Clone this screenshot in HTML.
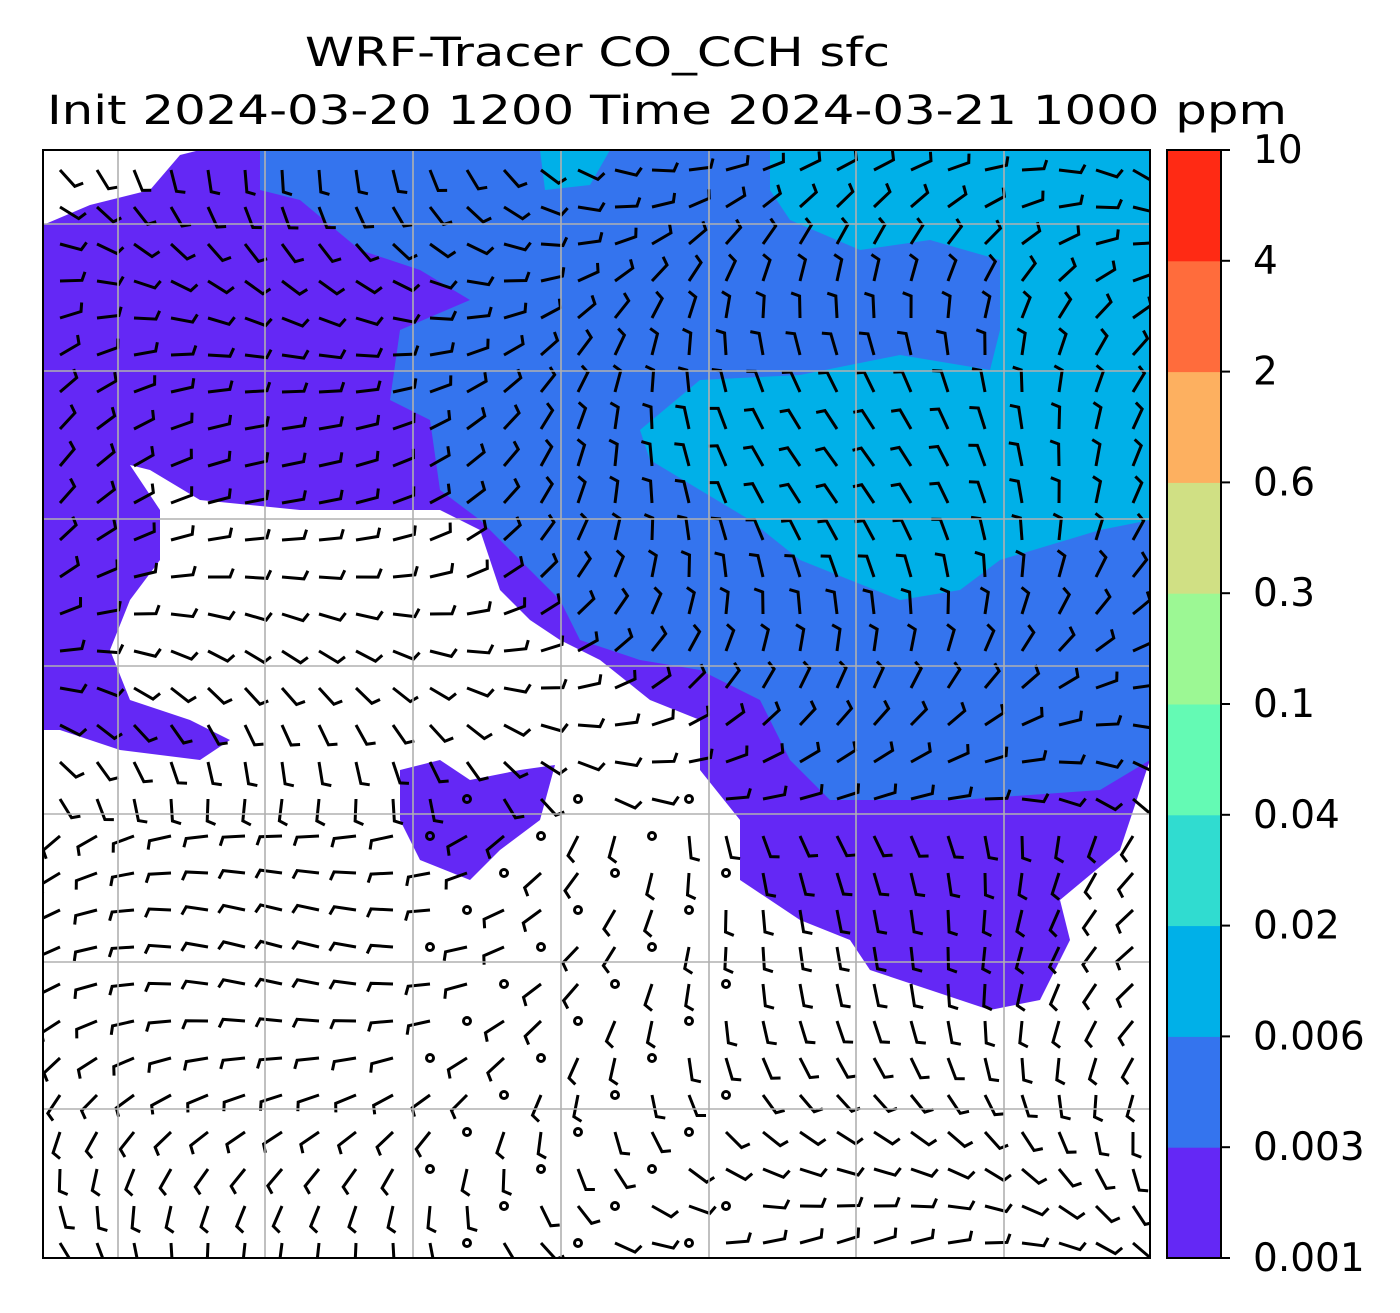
<!DOCTYPE html>
<html><head><meta charset="utf-8"><style>
body{margin:0;background:#fff;}
svg{display:block;font-family:"DejaVu Sans","Liberation Sans",sans-serif;}
</style></head><body>
<svg id="fig" width="1400" height="1313" viewBox="0 0 1400 1313">
<text x="305" y="66" font-size="40" textLength="585" lengthAdjust="spacingAndGlyphs">WRF-Tracer CO_CCH sfc</text>
<text x="47" y="124" font-size="40" textLength="1240" lengthAdjust="spacingAndGlyphs">Init 2024-03-20 1200 Time 2024-03-21 1000 ppm</text>
<defs><clipPath id="mapclip"><rect x="43" y="150" width="1107" height="1108"/></clipPath></defs>
<g clip-path="url(#mapclip)">
<rect x="43" y="150" width="1107" height="1108" fill="#fff"/>
<polygon fill="#6428f5" points="200,150 1150,150 1150,760 1120,850 1060,900 1070,940 1040,1000 990,1010 930,990 870,970 850,940 800,920 740,880 740,820 700,770 700,720 650,700 600,660 560,640 530,620 500,590 480,530 440,510 300,510 200,500 150,470 130,465 160,510 160,560 130,600 110,650 130,700 190,720 230,740 200,760 120,750 60,730 43,730 43,225 90,205 150,190 180,155"/>
<polygon fill="#6428f5" points="400,770 440,760 470,780 520,770 555,765 540,820 500,850 470,880 420,860 400,820"/>
<polygon fill="#3474ee" points="260,150 1150,150 1150,760 1100,790 960,800 830,800 790,760 760,700 700,670 640,660 580,640 560,600 520,560 480,520 440,490 430,420 390,400 400,330 470,300 420,270 360,250 300,200 260,190"/>
<polygon fill="#00b0e8" points="770,150 1150,150 1150,520 1100,530 1000,560 960,590 900,600 800,560 750,520 700,490 650,460 640,430 700,380 800,375 900,355 990,370 1000,330 1000,260 930,240 860,250 790,220 770,190"/>
<polygon fill="#00b0e8" points="540,150 610,150 590,185 545,190"/>
<g id="barbs" stroke="#000" stroke-width="3" fill="none"></g>
<g id="grid" stroke="#b0b0b0" stroke-width="1.6"></g>
</g>
<rect x="43" y="150" width="1107" height="1108" fill="none" stroke="#000" stroke-width="2"/>
<g id="cbar"></g>
</svg>
<script>
const levels=["0.001","0.003","0.006","0.02","0.04","0.1","0.3","0.6","2","4","10"];
const colors=["#6428f5","#3474ee","#00b0e8","#30dcd0","#64fab4","#9cf894","#d0e084","#fdb060","#ff6c3c","#ff2a14"];
const gridX=[118,265,413,561,709,856,1004];
const gridY=[224,371,519,666,814,962,1109];
const NS="http://www.w3.org/2000/svg";
const g=document.getElementById('grid');
gridX.forEach(x=>{const l=document.createElementNS(NS,'line');l.setAttribute('x1',x);l.setAttribute('x2',x);l.setAttribute('y1',150);l.setAttribute('y2',1258);


g.appendChild(l);});
gridY.forEach(y=>{const l=document.createElementNS(NS,'line');l.setAttribute('y1',y);l.setAttribute('y2',y);l.setAttribute('x1',43);l.setAttribute('x2',1150);


g.appendChild(l);});
const b=document.getElementById('barbs');
for(let y=170;y<1258;y+=37){for(let x=60;x<1150;x+=37){
 const a=Math.sin(x/180)+Math.cos(y/150)*1.2+(y>800?1.2:0);
 const calm=(y>780&&x>420&&x<760&&(x+y)%3==0);
 if(calm){const c=document.createElementNS(NS,'circle');c.setAttribute('cx',x);c.setAttribute('cy',y);c.setAttribute('r',3.5);
 
 
 b.appendChild(c);continue;}
 const len=22;
 const l=document.createElementNS(NS,'polyline');
 const x2=x+len*Math.cos(a),y2=y+len*Math.sin(a);
 const x3=x2+9*Math.cos(a-1.2),y3=y2+9*Math.sin(a-1.2);
 l.setAttribute('points',`${x},${y} ${x2},${y2} ${x3},${y3}`);
 
 
 b.appendChild(l);}}
const cb=document.getElementById('cbar');
const cx=1167,cw=54,cTop=150,cBot=1258,seg=(cBot-cTop)/colors.length;
colors.forEach((c,i)=>{const r=document.createElementNS(NS,'rect');r.setAttribute('x',cx);r.setAttribute('width',cw);
r.setAttribute('y',cBot-(i+1)*seg);r.setAttribute('height',seg+0.5);r.setAttribute('fill',c);


cb.appendChild(r);});
const fr=document.createElementNS(NS,'rect');fr.setAttribute('x',cx);fr.setAttribute('y',cTop);fr.setAttribute('width',cw);fr.setAttribute('height',cBot-cTop);fr.setAttribute('fill','none');fr.setAttribute('stroke','#000');fr.setAttribute('stroke-width',2);


cb.appendChild(fr);
levels.forEach((t,i)=>{const y=cBot-i*seg;
 const tk=document.createElementNS(NS,'line');tk.setAttribute('x1',cx+cw);tk.setAttribute('x2',cx+cw+9);tk.setAttribute('y1',y);tk.setAttribute('y2',y);tk.setAttribute('stroke','#000');tk.setAttribute('stroke-width',2);
 
 
 cb.appendChild(tk);
 const tx=document.createElementNS(NS,'text');tx.setAttribute('x',1253);tx.setAttribute('y',y+13);tx.setAttribute('font-size',39);tx.textContent=t;
 
 
 cb.appendChild(tx);});
</script>
</body></html>
